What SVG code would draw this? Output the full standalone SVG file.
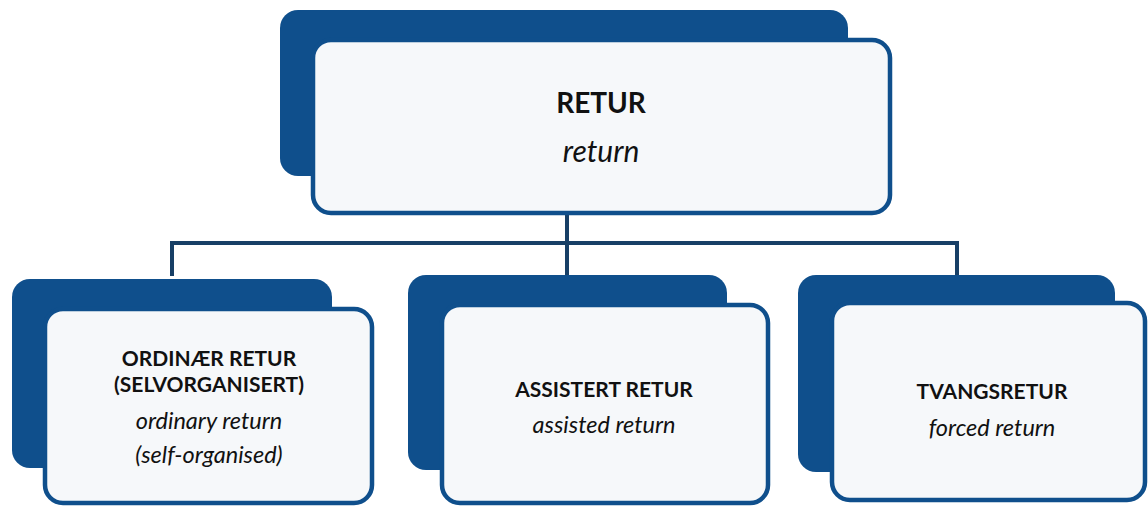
<svg xmlns="http://www.w3.org/2000/svg" width="1148" height="506" viewBox="0 0 1148 506">
<style>
.back{fill:#0f4f8c;}
.front{fill:#f6f8fa;stroke:#0f4f8c;stroke-width:4.5;}
.conn{fill:none;stroke:#173f66;stroke-width:4;stroke-linejoin:miter;}
.t{font-family:Lato,"Open Sans","Liberation Sans",sans-serif;fill:#111;text-anchor:middle;}
.b{font-weight:bold;font-size:21px;}
.i{font-style:italic;font-size:23.5px;}
.bt{font-weight:bold;font-size:28px;}
.it{font-style:italic;font-size:30px;}
</style>
<rect width="1148" height="506" fill="#ffffff"/>
<g id="connectors">
<path class="conn" d="M567 214 V275"/>
<path class="conn" d="M172 276 V243 H957 V276"/>
</g>
<g id="retur">
<rect class="back" x="280" y="10" width="568" height="166" rx="18"/>
<rect class="front" x="313" y="40" width="577" height="173" rx="18"/>
<text class="t bt" x="601" y="113">RETUR</text>
<text class="t it" x="601" y="162">return</text>
</g>
<g id="ordinaer">
<rect class="back" x="12" y="279" width="320" height="189" rx="18"/>
<rect class="front" x="45" y="309" width="327" height="194" rx="18"/>
<text class="t b" x="209" y="366">ORDINÆR RETUR</text>
<text class="t b" x="209" y="392">(SELVORGANISERT)</text>
<text class="t i" x="209" y="429">ordinary return</text>
<text class="t i" x="209" y="463">(self-organised)</text>
</g>
<g id="assistert">
<rect class="back" x="408" y="275" width="319" height="195" rx="18"/>
<rect class="front" x="442" y="305" width="326" height="198" rx="18"/>
<text class="t b" x="604" y="397">ASSISTERT RETUR</text>
<text class="t i" x="604" y="433">assisted return</text>
</g>
<g id="tvang">
<rect class="back" x="798" y="275" width="317" height="197" rx="18"/>
<rect class="front" x="832" y="303" width="313" height="197" rx="18"/>
<text class="t b" x="992" y="399">TVANGSRETUR</text>
<text class="t i" x="992" y="436">forced return</text>
</g>
</svg>
